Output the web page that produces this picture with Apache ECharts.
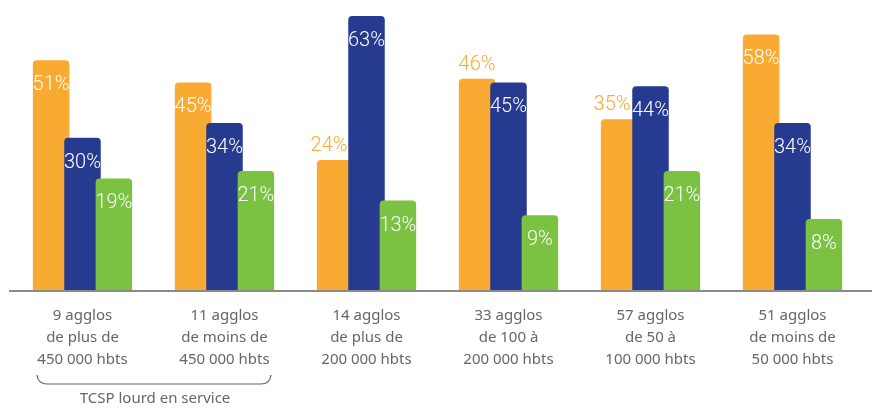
<!DOCTYPE html>
<html>
<head>
<meta charset="utf-8">
<script src="https://cdn.jsdelivr.net/npm/echarts@6/dist/echarts.min.js"></script>
<style>html,body{margin:0;padding:0;background:#fff}#c{width:872px;height:408px}</style>
</head>
<body>
<div id="c"></div>
<script>
const categories = [
  "9 agglos\nde plus de\n450 000 hbts",
  "11 agglos\nde moins de\n450 000 hbts",
  "14 agglos\nde plus de\n200 000 hbts",
  "33 agglos\nde 100 à\n200 000 hbts",
  "57 agglos\nde 50 à\n100 000 hbts",
  "51 agglos\nde moins de\n50 000 hbts"
];
const orangeValues = [51, 45, 24, 46, 35, 58];
const blueValues = [30, 34, 63, 45, 44, 34];
const greenValues = [19, 21, 13, 9, 21, 8];
const bracketLabel = "TCSP lourd en service";

const ORANGE = '#F9AA33', BLUE = '#263A8F', GREEN = '#7BC142';
const LABEL_FONT = "Roboto,sans-serif";

function insideLabel() {
  return { show: true, position: 'insideTop', distance: 15, color: '#fff',
    fontFamily: LABEL_FONT, fontWeight: 300, fontSize: 20, formatter: '{c}%' };
}
// labels placed above short bars (drawn in orange)
const outsideOrange = { 2: [-6, 0], 3: [0, 0], 4: [-7, 0] };
function buildOrange() {
  return orangeValues.map((v, i) => {
    if (outsideOrange[i]) {
      return { value: v, label: { position: 'top', distance: 4, color: ORANGE, offset: outsideOrange[i] } };
    }
    return v;
  });
}

const chart = echarts.init(document.getElementById('c'));
function barSeries(name, data, color) {
  return { type: 'bar', name: name, data: data, barWidth: 36.5, barGap: '-14%',
    itemStyle: { color: color, borderRadius: [4, 4, 0, 0] }, label: insideLabel() };
}
const LINE = { stroke: '#666', lineWidth: 1.2, fill: null };
chart.setOption({
  animation: false,
  grid: { left: 11.5, right: 8.5, top: 0, bottom: 118 },
  xAxis: {
    type: 'category', data: categories,
    axisLine: { show: false }, axisTick: { show: false },
    axisLabel: { color: '#666', fontFamily: "'Noto Sans',sans-serif", fontSize: 15, lineHeight: 22, margin: 15 }
  },
  yAxis: {
    type: 'value', min: -11.25, max: 67.35, startValue: -11.25,
    show: false, splitLine: { show: false }
  },
  series: [
    barSeries('o', buildOrange(), ORANGE),
    barSeries('b', blueValues, BLUE),
    barSeries('g', greenValues, GREEN)
  ],
  graphic: [
    { type: 'rect', shape: { x: 9, y: 290, width: 863, height: 2 }, style: { fill: '#8a8a8a' }, z: 10 },
    { type: 'bezierCurve', shape: { x1: 37, y1: 375, x2: 47, y2: 384, cpx1: 38, cpy1: 384 }, style: LINE },
    { type: 'line', shape: { x1: 47, y1: 384, x2: 261, y2: 384 }, style: LINE },
    { type: 'bezierCurve', shape: { x1: 261, y1: 384, x2: 271, y2: 375, cpx1: 270, cpy1: 384 }, style: LINE },
    { type: 'text', x: 155, y: 399, style: { text: bracketLabel, fill: '#666', font: "15px 'Noto Sans',sans-serif", textAlign: 'center', textVerticalAlign: 'middle' } }
  ]
});
</script>
</body>
</html>
